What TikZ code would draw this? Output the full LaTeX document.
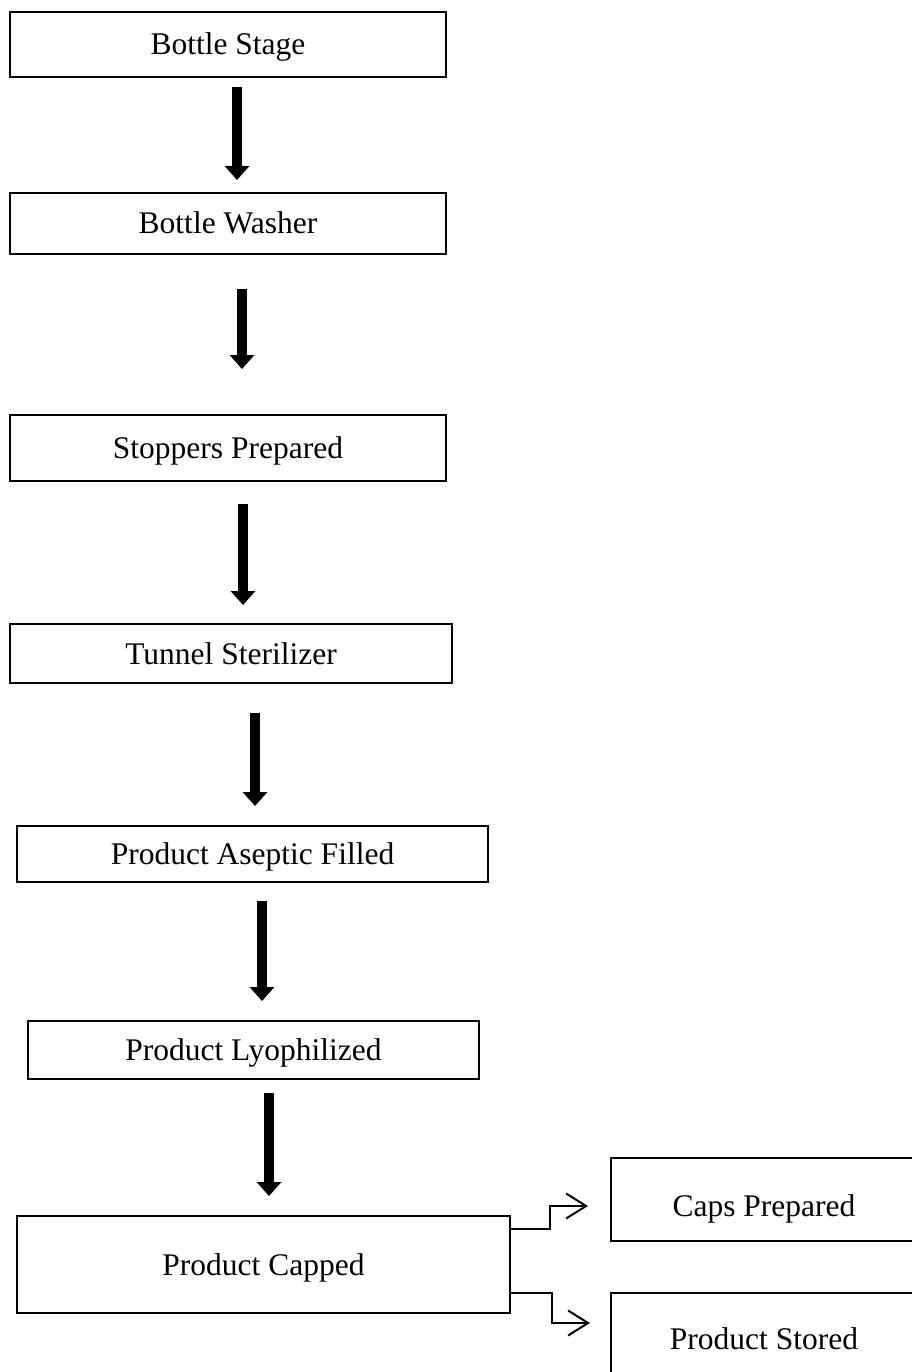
\documentclass[tikz,border=0pt]{standalone}
\usepackage{fontspec}
\setmainfont{Liberation Serif}
\usetikzlibrary{arrows.meta}
\begin{document}
\begin{tikzpicture}[x=1pt,y=-1pt,
  box/.style={draw,line width=1.3pt,inner sep=0pt,text height=21pt,text depth=0pt,font=\fontsize{31.5}{36}\selectfont},
  bigarrow/.style={line width=9.5pt,-{Triangle[width=24pt,length=14pt]}},
  elbow/.style={line width=2pt,-{Straight Barb[width=25pt,length=20pt]}}]
\useasboundingbox (0,0) rectangle (911,1372);
\node[box,minimum width=436pt,minimum height=65pt] (b1) at (228,44.5) {Bottle Stage};
\node[box,minimum width=436pt,minimum height=61pt] (b2) at (228,223.5) {Bottle Washer};
\node[box,minimum width=436pt,minimum height=66pt] (b3) at (228,448) {Stoppers Prepared};
\node[box,minimum width=442pt,minimum height=59pt] (b4) at (231,653.5) {Tunnel Sterilizer};
\node[box,minimum width=471pt,minimum height=56pt] (b5) at (252.5,854) {Product Aseptic Filled};
\node[box,minimum width=451pt,minimum height=58pt] (b6) at (253.5,1050) {Product Lyophilized};
\node[box,minimum width=493pt,minimum height=97pt] (b7) at (263.5,1264.5) {Product Capped};
\node[box,minimum width=306pt,minimum height=83pt,text height=33pt,text depth=-14pt] (b8) at (764,1199.5) {Caps Prepared};
\node[box,minimum width=306pt,minimum height=92pt] (b9) at (764,1339) {Product Stored};
% thick arrows
\coordinate (a1s) at (237,87);   \coordinate (a1e) at (237,180);
\coordinate (a2s) at (242,289);  \coordinate (a2e) at (242,369);
\coordinate (a3s) at (243,504);  \coordinate (a3e) at (243,605);
\coordinate (a4s) at (255,713);  \coordinate (a4e) at (255,806);
\coordinate (a5s) at (262,901);  \coordinate (a5e) at (262,1001);
\coordinate (a6s) at (269,1093); \coordinate (a6e) at (269,1196);
\foreach \i in {1,...,6}{\draw[bigarrow] (a\i s) -- (a\i e);}
% elbow arrows
\coordinate (e1) at (588,1206);
\coordinate (e2) at (590,1323);
\draw[elbow] (b7.east |- 0,1229) -| (550,1206) -- (e1);
\draw[elbow] (b7.east |- 0,1293) -| (552,1323) -- (e2);
\end{tikzpicture}
\end{document}
